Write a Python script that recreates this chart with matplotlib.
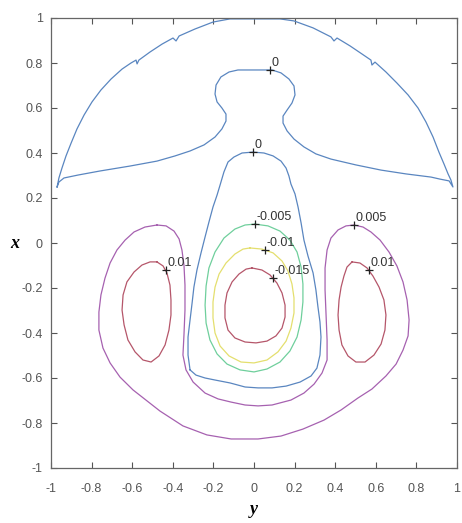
import matplotlib
matplotlib.use("Agg")
import matplotlib.pyplot as plt

plt.rcParams['axes.unicode_minus'] = False
plt.rcParams['font.family'] = ['Liberation Sans', 'DejaVu Sans']

# contour levels and the line colour used for each
levels = [-0.015, -0.01, -0.005, 0.0, 0.005, 0.01]
level_colors = {
    -0.015: '#b5566a',
    -0.01: '#e4df6e',
    -0.005: '#6fcf9c',
    0.0: '#5a86c0',
    0.005: '#a661b0',
    0.01: '#b5566a',
}

# zero level, upper cap (outer arc then inner edge with the bulb)
cap_u = [-0.970, -0.961, -0.946, -0.926, -0.901, -0.872, -0.837, -0.798, -0.754, -0.704,
         -0.650, -0.606, -0.581, -0.576, -0.567, -0.512, -0.453, -0.399, -0.384, -0.369,
         -0.291, -0.202, -0.118, 0.128, 0.197, 0.291, 0.379, 0.394, 0.409, 0.473,
         0.532, 0.576, 0.581, 0.596, 0.650, 0.704, 0.759, 0.808, 0.847, 0.882,
         0.911, 0.936, 0.956, 0.970, 0.980,
         0.961, 0.916, 0.872, 0.749, 0.626, 0.502, 0.379, 0.305, 0.246, 0.197,
         0.163, 0.143, 0.143, 0.163, 0.187, 0.202, 0.197, 0.172, 0.133, 0.089,
         0.005, -0.079, -0.123, -0.163, -0.187, -0.192, -0.182, -0.158, -0.138, -0.138,
         -0.158, -0.192, -0.246, -0.315, -0.389, -0.478, -0.611, -0.759, -0.867, -0.936,
         -0.961, -0.970]
cap_v = [0.249, 0.289, 0.333, 0.387, 0.444, 0.507, 0.569, 0.627, 0.680, 0.729,
         0.773, 0.800, 0.813, 0.796, 0.813, 0.849, 0.884, 0.911, 0.898, 0.920,
         0.951, 0.982, 0.996, 0.996, 0.987, 0.956, 0.916, 0.898, 0.911, 0.876,
         0.840, 0.813, 0.791, 0.804, 0.760, 0.711, 0.658, 0.600, 0.538, 0.471,
         0.404, 0.351, 0.307, 0.280, 0.249,
         0.276, 0.284, 0.293, 0.307, 0.324, 0.347, 0.373, 0.396, 0.427, 0.462,
         0.498, 0.533, 0.564, 0.591, 0.622, 0.658, 0.698, 0.729, 0.756, 0.769,
         0.769, 0.769, 0.760, 0.738, 0.702, 0.662, 0.627, 0.600, 0.573, 0.542,
         0.507, 0.471, 0.436, 0.409, 0.387, 0.364, 0.342, 0.320, 0.302, 0.289,
         0.271, 0.249]

# zero level, bell around the central well
bell_u = [-0.315, -0.325, -0.325, -0.315, -0.305, -0.296, -0.281, -0.261, -0.241, -0.222,
          -0.202, -0.182, -0.167, -0.148, -0.128, -0.099, -0.059, -0.005, 0.049, 0.094,
          0.133, 0.158, 0.172, 0.182, 0.202, 0.217, 0.232, 0.246, 0.266, 0.291,
          0.305, 0.315, 0.325, 0.330, 0.325, 0.310, 0.281, 0.227, 0.158, 0.089,
          0.020, -0.044, -0.118, -0.192, -0.241, -0.286, -0.315]
bell_v = [-0.564, -0.498, -0.418, -0.342, -0.267, -0.196, -0.120, -0.044, 0.027, 0.093,
          0.160, 0.213, 0.258, 0.316, 0.360, 0.382, 0.400, 0.404, 0.400, 0.387,
          0.364, 0.333, 0.298, 0.262, 0.218, 0.160, 0.089, 0.013, -0.058, -0.133,
          -0.209, -0.284, -0.351, -0.418, -0.498, -0.556, -0.591, -0.618, -0.636, -0.644,
          -0.644, -0.640, -0.622, -0.609, -0.600, -0.587, -0.564]

# -0.005 level
ring1_u = [0.005, 0.069, 0.128, 0.177, 0.212, 0.232, 0.241, 0.241, 0.232, 0.212,
           0.177, 0.128, 0.064, 0.0, -0.069, -0.133, -0.182, -0.217, -0.236, -0.241,
           -0.236, -0.222, -0.192, -0.148, -0.094, -0.044, 0.005]
ring1_v = [0.084, 0.076, 0.053, 0.013, -0.040, -0.107, -0.182, -0.262, -0.342, -0.418,
           -0.480, -0.529, -0.560, -0.573, -0.564, -0.538, -0.493, -0.431, -0.356, -0.276,
           -0.191, -0.111, -0.040, 0.022, 0.062, 0.080, 0.084]

# -0.01 level
ring2_u = [-0.020, 0.039, 0.094, 0.138, 0.167, 0.187, 0.197, 0.197, 0.182, 0.158,
           0.118, 0.064, 0.0, -0.064, -0.123, -0.167, -0.192, -0.202, -0.202, -0.192,
           -0.172, -0.138, -0.094, -0.054, -0.020]
ring2_v = [-0.022, -0.027, -0.044, -0.080, -0.124, -0.182, -0.244, -0.311, -0.378, -0.436,
           -0.484, -0.520, -0.533, -0.529, -0.502, -0.458, -0.400, -0.333, -0.262, -0.196,
           -0.138, -0.089, -0.049, -0.027, -0.022]

# -0.015 level
ring3_u = [-0.010, 0.039, 0.079, 0.113, 0.138, 0.153, 0.153, 0.138, 0.108, 0.064,
           0.010, -0.044, -0.094, -0.128, -0.143, -0.143, -0.133, -0.108, -0.074, -0.039,
           -0.010]
ring3_v = [-0.111, -0.120, -0.142, -0.178, -0.222, -0.276, -0.329, -0.378, -0.413, -0.436,
           -0.444, -0.440, -0.422, -0.387, -0.333, -0.276, -0.222, -0.173, -0.138, -0.116,
           -0.111]

# 0.005 level, horseshoe round both side lobes
shoe_u = [-0.478, -0.433, -0.394, -0.369, -0.355, -0.345, -0.340, -0.340, -0.345, -0.350,
          -0.335, -0.300, -0.241, -0.177, -0.113, -0.044, 0.020, 0.089, 0.182, 0.246,
          0.296, 0.335, 0.360, 0.360, 0.355, 0.350, 0.350, 0.360, 0.379, 0.414,
          0.453, 0.493, 0.537, 0.576, 0.621, 0.665, 0.704, 0.734, 0.754, 0.764,
          0.759, 0.734, 0.700, 0.650, 0.581, 0.512, 0.429, 0.345, 0.241, 0.133,
          0.020, -0.113, -0.232, -0.350, -0.463, -0.596, -0.660, -0.709, -0.744, -0.764,
          -0.764, -0.754, -0.734, -0.709, -0.675, -0.635, -0.591, -0.537, -0.478]
shoe_v = [0.080, 0.076, 0.053, 0.018, -0.031, -0.098, -0.187, -0.298, -0.409, -0.498,
          -0.564, -0.618, -0.667, -0.693, -0.707, -0.720, -0.724, -0.720, -0.698, -0.667,
          -0.627, -0.578, -0.520, -0.431, -0.320, -0.209, -0.111, -0.031, 0.022, 0.058,
          0.076, 0.080, 0.071, 0.049, 0.013, -0.040, -0.102, -0.173, -0.253, -0.342,
          -0.413, -0.476, -0.538, -0.591, -0.649, -0.689, -0.742, -0.787, -0.827, -0.858,
          -0.871, -0.871, -0.853, -0.813, -0.747, -0.653, -0.596, -0.533, -0.467, -0.387,
          -0.307, -0.231, -0.156, -0.089, -0.031, 0.013, 0.049, 0.071, 0.080]

# 0.01 level, left and right lobes
lobe_l_u = [-0.478, -0.448, -0.429, -0.414, -0.409, -0.409, -0.419, -0.438, -0.468, -0.507,
            -0.547, -0.586, -0.621, -0.640, -0.650, -0.645, -0.626, -0.591, -0.552, -0.512,
            -0.478]
lobe_l_v = [-0.084, -0.102, -0.133, -0.187, -0.253, -0.320, -0.387, -0.453, -0.502, -0.529,
            -0.520, -0.484, -0.431, -0.364, -0.298, -0.231, -0.173, -0.129, -0.098, -0.084,
            -0.084]
lobe_r_u = [0.483, 0.522, 0.557, 0.586, 0.616, 0.640, 0.650, 0.645, 0.626, 0.591,
            0.547, 0.502, 0.463, 0.433, 0.419, 0.414, 0.419, 0.429, 0.443, 0.458,
            0.483]
lobe_r_v = [-0.084, -0.089, -0.111, -0.147, -0.196, -0.253, -0.320, -0.387, -0.449, -0.498,
            -0.529, -0.529, -0.502, -0.453, -0.387, -0.320, -0.253, -0.196, -0.147, -0.107,
            -0.084]

curves = [
    (0.0, cap_u, cap_v),
    (0.0, bell_u, bell_v),
    (-0.005, ring1_u, ring1_v),
    (-0.01, ring2_u, ring2_v),
    (-0.015, ring3_u, ring3_v),
    (0.005, shoe_u, shoe_v),
    (0.01, lobe_l_u, lobe_l_v),
    (0.01, lobe_r_u, lobe_r_v),
]

# inline labels: position and level
label_u = [0.079, -0.005, 0.005, 0.054, 0.094, 0.493, -0.433, 0.567]
label_v = [0.769, 0.404, 0.084, -0.031, -0.156, 0.080, -0.120, -0.120]
label_level = [0.0, 0.0, -0.005, -0.01, -0.015, 0.005, 0.01, 0.01]

ticks = [-1, -0.8, -0.6, -0.4, -0.2, 0, 0.2, 0.4, 0.6, 0.8, 1]
tick_labels = ['-1', '-0.8', '-0.6', '-0.4', '-0.2', '0', '0.2', '0.4', '0.6', '0.8', '1']

fig = plt.figure(figsize=(4.62, 5.23), dpi=100)
ax = fig.add_axes([51 / 462, 1 - 468 / 523, 406 / 462, 450 / 523])

for lev, u, v in curves:
    ax.plot(u, v, color=level_colors[lev], lw=0.9)

for u, v, lev in zip(label_u, label_v, label_level):
    ax.plot(u, v, marker='+', color='#222222', ms=6, mew=0.9)
    ax.annotate(f'{lev:g}', (u, v), xytext=(1, 1), textcoords='offset points',
                ha='left', va='bottom', fontsize=9, color='#333333')

ax.set_xlim(-1, 1)
ax.set_ylim(-1, 1)
ax.set_xticks(ticks)
ax.set_yticks(ticks)
ax.set_xticklabels(tick_labels)
ax.set_yticklabels(tick_labels)
ax.tick_params(direction='in', top=True, right=True, length=4, width=0.8,
               labelsize=9, labelcolor='#555555', color='#555555', pad=6)
ax.tick_params(axis='x', pad=11)
for sp in ax.spines.values():
    sp.set_color('#666666')
    sp.set_linewidth(0.9)

ax.set_xlabel('y', family='Liberation Serif', style='italic', weight='bold', fontsize=13,
              labelpad=4)
ax.set_ylabel('x', family='Liberation Serif', style='italic', weight='bold', fontsize=13,
              rotation=0, labelpad=5, va='center')

fig.savefig('out.png', dpi=100)
